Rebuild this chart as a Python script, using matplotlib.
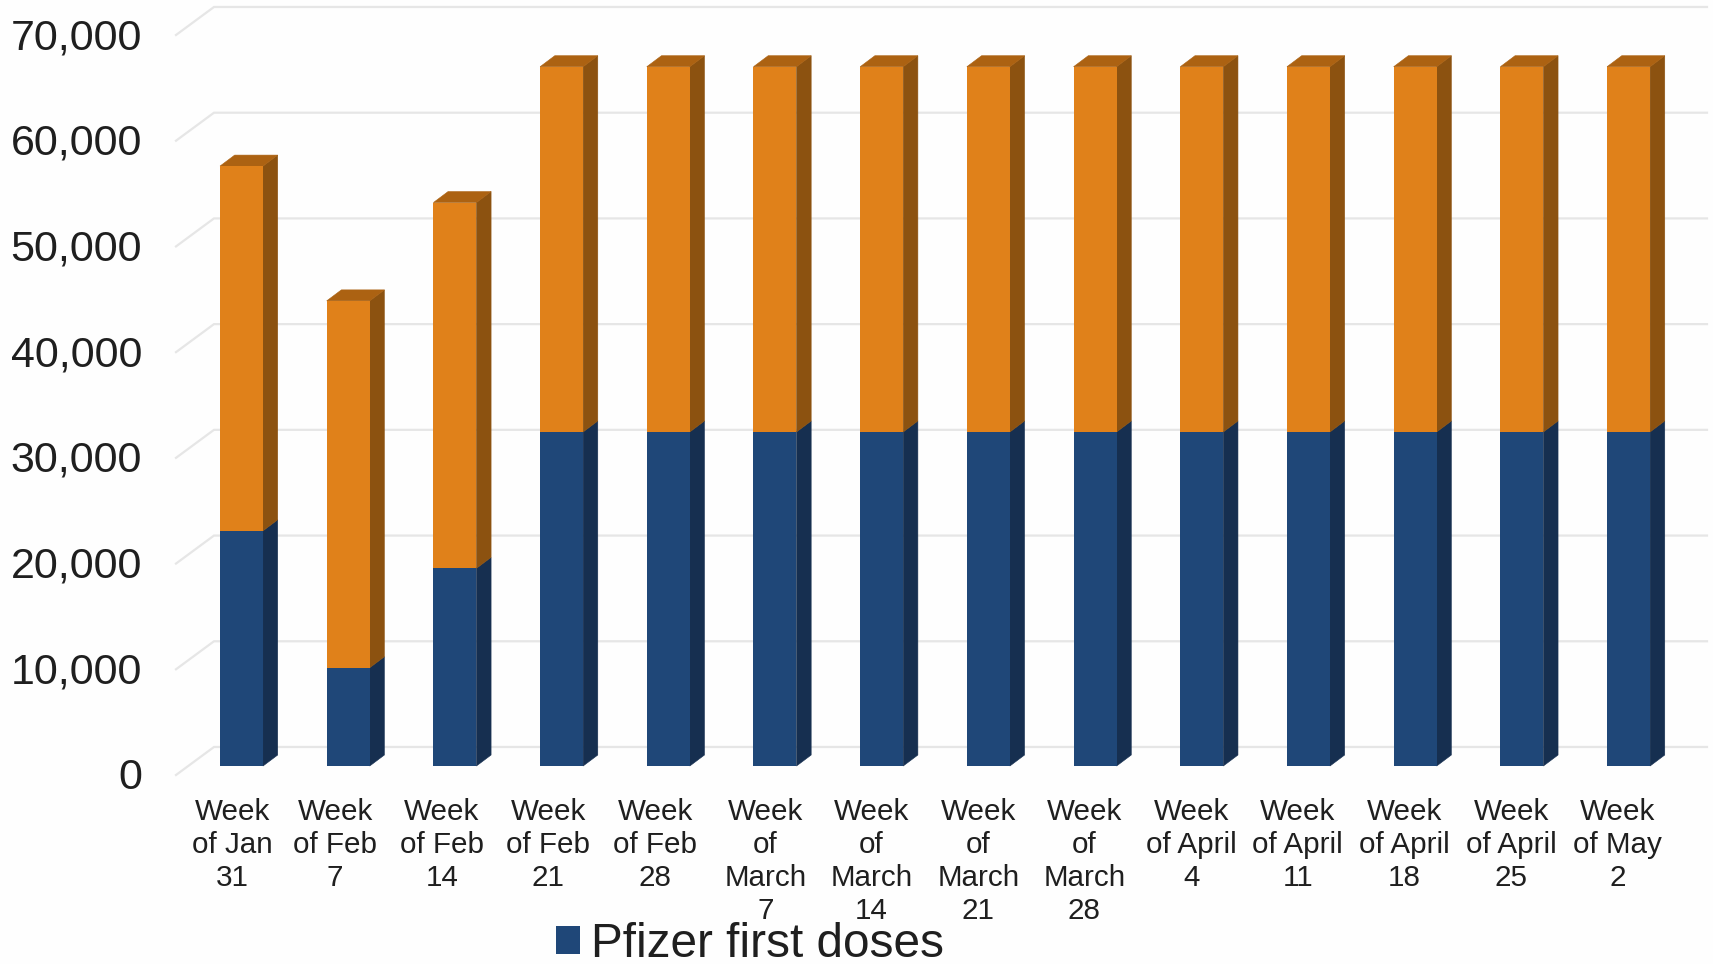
import matplotlib
matplotlib.use("Agg")
import matplotlib.pyplot as plt
import matplotlib.transforms as mtransforms
import numpy as np

plt.rcParams['font.family'] = ['Liberation Sans', 'DejaVu Sans']

week_labels = ["Week\nof Jan\n31", "Week\nof Feb\n7", "Week\nof Feb\n14", "Week\nof Feb\n21",
               "Week\nof Feb\n28", "Week\nof\nMarch\n7", "Week\nof\nMarch\n14", "Week\nof\nMarch\n21",
               "Week\nof\nMarch\n28", "Week\nof April\n4", "Week\nof April\n11", "Week\nof April\n18",
               "Week\nof April\n25", "Week\nof May\n2"]
first_doses = [22250, 9300, 18700, 31600, 31600, 31600, 31600, 31600, 31600, 31600, 31600, 31600, 31600, 31600]
second_doses = [34500, 34700, 34600, 34550, 34550, 34550, 34550, 34550, 34550, 34550, 34550, 34550, 34550, 34550]
y_ticks = [0, 10000, 20000, 30000, 40000, 50000, 60000, 70000]

blue, blue_side = "#1F4778", "#162F50"
orange, orange_side, orange_top = "#E0811A", "#8C5210", "#AC6212"
grid_col = "#E6E6E6"

# fake 3d look, the floor lifts the bars off the front edge of the chart
floor = 850
bar_w = 0.403
bar_dx, bar_dy = 0.1375, 1040
wall_dx, wall_dy = 0.356, 2650
# labels sit a bit left of their bars, the Feb ones more
label_shift = [0.085, 0.123, 0.123, 0.123, 0.123, 0.09, 0.095, 0.095, 0.1, 0.1, 0.1, 0.1, 0.1, 0.105]

fig = plt.figure(figsize=(17.13, 9.64), dpi=100, facecolor="#FEFEFE")
ax = fig.add_axes([176 / 1713, (964 - 775) / 964, (1707 - 176) / 1713, (775 - 35) / 964])
ax.set_facecolor("none")

x = np.arange(len(week_labels))
first = np.array(first_doses)
second = np.array(second_doses)

x_min, x_max = -0.614, 13.735

for v in y_ticks:
    ax.plot([x_min, x_min + wall_dx, x_max], [v, v + wall_dy, v + wall_dy],
            color=grid_col, lw=1.6, clip_on=False, zorder=1, solid_joinstyle="miter")

ax.bar(x, first, bar_w, bottom=floor, color=blue, label="Pfizer first doses", zorder=3)
ax.bar(x, second, bar_w, bottom=floor + first, color=orange, zorder=3)

# side and top faces
for i in x:
    right = i + bar_w / 2
    left = i - bar_w / 2
    y1 = floor + first[i]
    y2 = y1 + second[i]
    ax.fill([right, right + bar_dx, right + bar_dx, right], [floor, floor + bar_dy, y1 + bar_dy, y1],
            color=blue_side, lw=0.4, zorder=2, clip_on=False)
    ax.fill([right, right + bar_dx, right + bar_dx, right], [y1, y1 + bar_dy, y2 + bar_dy, y2],
            color=orange_side, lw=0.4, zorder=2, clip_on=False)
    ax.fill([left, left + bar_dx, right + bar_dx, right], [y2, y2 + bar_dy, y2 + bar_dy, y2],
            color=orange_top, lw=0.4, zorder=2, clip_on=False)

ax.set_xlim(x_min, x_max)
ax.set_ylim(0, 70000)
ax.set_yticks(y_ticks)
ax.set_yticklabels([f"{v:,}" for v in y_ticks], fontsize=31, color="#1F1F1F", va="center")
ax.set_xticks(x - np.array(label_shift))
ax.set_xticklabels(week_labels, fontsize=21.3, color="#1F1F1F", linespacing=1.23)
ax.tick_params(axis="y", length=0, pad=24.5)
ax.tick_params(axis="x", length=0, pad=16.5)
for s in ax.spines.values():
    s.set_visible(False)

# nudge y labels down a little
nudge = mtransforms.ScaledTranslation(0, -2.2 / 72, fig.dpi_scale_trans)
for lab in ax.get_yticklabels():
    lab.set_transform(lab.get_transform() + nudge)

fig.legend(loc="lower left", bbox_to_anchor=(556 / 1713, (964 - 967) / 964), frameon=False,
           fontsize=34.4, handlelength=0.5, handleheight=0.5, handletextpad=0.23,
           borderpad=0, borderaxespad=0, labelcolor="#1F1F1F")

plt.savefig("out.png", dpi=100, facecolor=fig.get_facecolor())
